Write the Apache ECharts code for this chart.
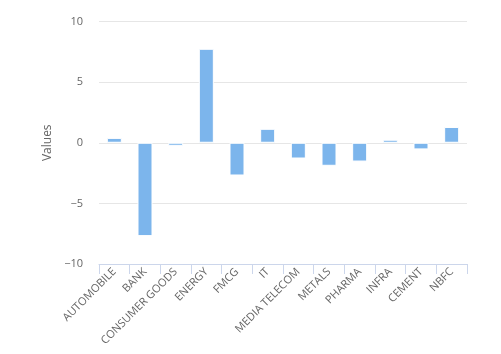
<!doctype html>
<html>
    <head>
        <meta charset="utf-8">
        <style>
            html, body { margin: 0; padding: 0; background: #fff; }
            #main { width: 501px; height: 354px; }
        </style>
    </head>
    <body>
        <div id="main"></div>
        <script src="https://cdn.jsdelivr.net/npm/echarts@6/dist/echarts.min.js"></script>
        <script>
            var sectors = ['AUTOMOBILE', 'BANK', 'CONSUMER GOODS', 'ENERGY', 'FMCG', 'IT',
                'MEDIA TELECOM', 'METALS', 'PHARMA', 'INFRA', 'CEMENT', 'NBFC'];
            var values = [0.4, -7.7, -0.25, 7.75, -2.7, 1.15, -1.3, -1.9, -1.55, 0.25, -0.55, 1.3];
            var yTicks = [-10, -5, 0, 5, 10];

            var font = '"Open Sans", sans-serif';
            var chart = echarts.init(document.getElementById('main'));

            chart.setOption({
                animation: false,
                grid: {
                    left: 99,
                    right: 34,
                    top: 21.5,
                    bottom: 90
                },
                xAxis: {
                    type: 'category',
                    data: sectors,
                    axisLine: { onZero: false, lineStyle: { color: '#ccd6eb', width: 1 } },
                    axisTick: { show: true, length: 10, lineStyle: { color: '#ccd6eb' } },
                    axisLabel: {
                        rotate: 45,
                        interval: 0,
                        margin: 6,
                        color: '#666666',
                        fontSize: 11,
                        fontFamily: font
                    }
                },
                yAxis: {
                    type: 'value',
                    min: yTicks[0],
                    max: yTicks[yTicks.length - 1],
                    interval: 5,
                    name: 'Values',
                    nameLocation: 'middle',
                    nameGap: 42,
                    nameTextStyle: { color: '#666666', fontSize: 12, fontFamily: font },
                    axisLine: { show: false },
                    axisTick: { show: false },
                    axisLabel: {
                        color: '#666666',
                        fontSize: 11,
                        fontFamily: font,
                        margin: 16,
                        formatter: function (v) { return v < 0 ? '\u2212' + Math.abs(v) : String(v); }
                    },
                    splitLine: { lineStyle: { color: '#e6e6e6', width: 1 } }
                },
                series: [{
                    type: 'bar',
                    data: values,
                    barWidth: 15,
                    itemStyle: {
                        color: '#7cb5ec',
                        borderColor: '#ffffff',
                        borderWidth: 1
                    }
                }]
            });
        </script>
    </body>
</html>
